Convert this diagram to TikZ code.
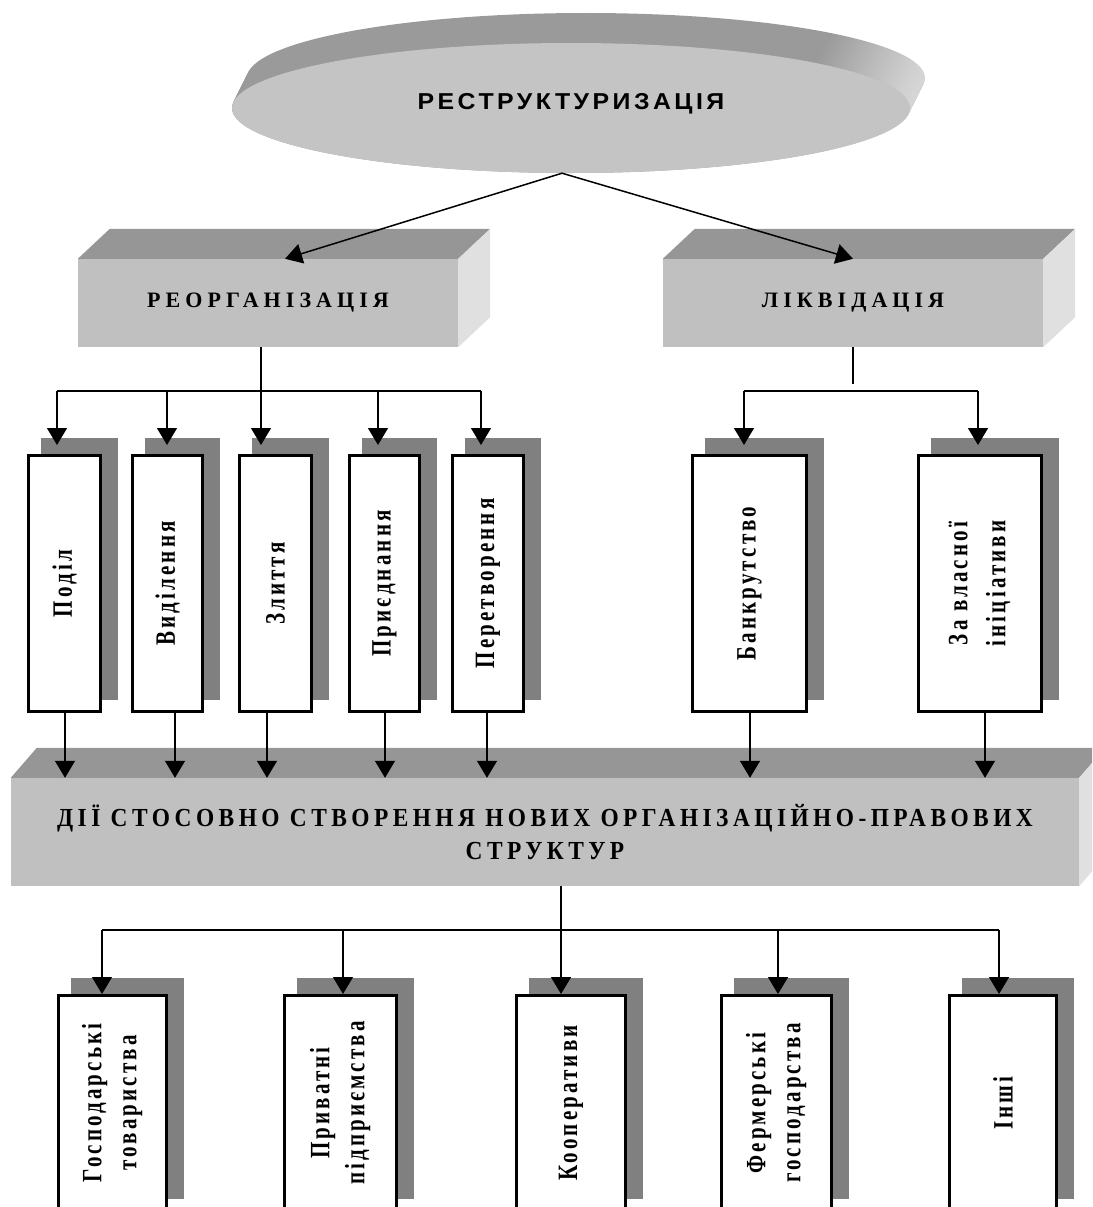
\documentclass[tikz,border=0pt]{standalone}
\usepackage{fontspec}
\setmainfont{Liberation Serif}
\newfontfamily\titlefont[LetterSpace=14]{Liberation Sans}
\newfontfamily\lblfont[LetterSpace=15]{Liberation Serif}
\newfontfamily\hdfont[LetterSpace=23]{Liberation Serif}
\newfontfamily\bigfont[LetterSpace=19]{Liberation Serif}
\usetikzlibrary{arrows.meta,shapes.geometric,backgrounds}
\definecolor{facec}{RGB}{192,192,192}
\definecolor{topc}{RGB}{150,150,150}
\definecolor{sidec}{RGB}{224,224,224}
\definecolor{shadc}{RGB}{128,128,128}
\definecolor{ellc}{RGB}{196,196,196}
\definecolor{rimc}{RGB}{154,154,154}
\definecolor{riml}{RGB}{214,214,214}
\pgfdeclarehorizontalshading{rimshade}{100bp}{color(0bp)=(rimc); color(68bp)=(rimc); color(75bp)=(riml); color(100bp)=(riml)}
\newcommand{\vlab}[1]{\rotatebox{90}{\scalebox{0.75}[1]{#1}}}
\newcommand{\vlabb}[3]{\rotatebox{90}{\scalebox{0.75}[1]{\begin{tabular}{@{}c@{}}#1\\[#3]#2\end{tabular}}}}
\newcommand{\cond}[1]{\scalebox{0.9}[1]{#1}}
\begin{document}
\begin{tikzpicture}[x=1pt,y=-1pt,
  conn/.style={line width=1.5pt},
  arr/.style={conn,-{Triangle[length=17pt,width=20pt]}},
  vbox/.style={draw, line width=3pt, fill=white, inner sep=0pt, font=\lblfont\bfseries\fontsize{28}{32}\selectfont},
  box3d/.style={fill=facec, inner sep=0pt, font=\hdfont\bfseries\fontsize{22}{26}\selectfont}
]
\useasboundingbox (0,0) rectangle (1092,1207);
\clip (0,0) rectangle (1092,1207);

% ---- top ellipse with rim
\foreach \i in {0,...,30}{\shade[shading=rimshade] ({586-0.5*\i},{78+\i}) ellipse [x radius=339pt, y radius=65pt];}
\node[ellipse, fill=ellc, minimum width=678pt, minimum height=130pt, inner sep=0pt] (restr) at (571,108) {};
\node[font=\titlefont\bfseries\fontsize{23}{28}\selectfont] (restrt) at (571,104) {\scalebox{1.08}[1]{РЕСТРУКТУРИЗАЦІЯ}};

% ---- 3D boxes
\node[box3d, minimum width=380pt, minimum height=88pt] (reorg) at (268,303) {РЕОРГАНІЗАЦІЯ};
\fill[topc] (reorg.north west) -- ([shift={(32,-30)}]reorg.north west) -- ([shift={(32,-30)}]reorg.north east) -- (reorg.north east) -- cycle;
\fill[sidec] (reorg.north east) -- ([shift={(32,-30)}]reorg.north east) -- ([shift={(32,-30)}]reorg.south east) -- (reorg.south east) -- cycle;

\node[box3d, minimum width=380pt, minimum height=88pt] (liq) at (853,303) {ЛІКВІДАЦІЯ};
\fill[topc] (liq.north west) -- ([shift={(32,-30)}]liq.north west) -- ([shift={(32,-30)}]liq.north east) -- (liq.north east) -- cycle;
\fill[sidec] (liq.north east) -- ([shift={(32,-30)}]liq.north east) -- ([shift={(32,-30)}]liq.south east) -- (liq.south east) -- cycle;

\node[box3d, font=\bigfont\bfseries\fontsize{26}{33}\selectfont, align=center, minimum width=1068pt, minimum height=108pt] (big) at (545,832) {\cond{ДІЇ СТОСОВНО СТВОРЕННЯ НОВИХ ОРГАНІЗАЦІЙНО-ПРАВОВИХ}\\\cond{СТРУКТУР}};
\fill[topc] (big.north west) -- ([shift={(26,-30)}]big.north west) -- ([shift={(26,-30)}]big.north east) -- (big.north east) -- cycle;
\fill[sidec] (big.north east) -- ([shift={(26,-30)}]big.north east) -- ([shift={(26,-30)}]big.south east) -- (big.south east) -- cycle;

% ---- middle vertical boxes
\node[vbox, minimum width=72pt, minimum height=256pt] (m1) at (64.5,583.5) {\vlab{Поділ}};
\node[vbox, minimum width=70pt, minimum height=256pt] (m2) at (167.5,583.5) {\vlab{Виділення}};
\node[vbox, minimum width=72pt, minimum height=256pt] (m3) at (275.5,583.5) {\vlab{Злиття}};
\node[vbox, minimum width=70pt, minimum height=256pt] (m4) at (384.5,583.5) {\vlab{Приєднання}};
\node[vbox, minimum width=71pt, minimum height=256pt] (m5) at (488,583.5) {\vlab{Перетворення}};
\node[vbox, minimum width=114pt, minimum height=256pt] (m6) at (749.5,583.5) {\vlab{Банкрутство}};
\node[vbox, minimum width=123pt, minimum height=256pt] (m7) at (980,583.5) {\vlabb{За власної}{ініціативи}{6pt}};

% ---- bottom vertical boxes
\node[vbox, minimum width=108pt, minimum height=215pt] (b1) at (112.5,1103) {\vlabb{Господарські}{товариства}{3pt}};
\node[vbox, minimum width=112pt, minimum height=215pt] (b2) at (340.5,1103) {\vlabb{Приватні}{підприємства}{3pt}};
\node[vbox, minimum width=109pt, minimum height=215pt] (b3) at (571,1103) {\vlab{Кооперативи}};
\node[vbox, minimum width=110pt, minimum height=215pt] (b4) at (776.5,1103) {\vlabb{Фермерські}{господарства}{3pt}};
\node[vbox, minimum width=107pt, minimum height=215pt] (b5) at (1003,1103) {\vlab{Інші}};

\begin{scope}[on background layer]
\foreach \b in {m1,m2,m3,m4,m5,m6,m7,b1,b2,b3,b4,b5}
  \fill[shadc] ([shift={(14,-16)}]\b.north west) rectangle ([shift={(16,-13)}]\b.south east);
\end{scope}

% ---- connectors from ellipse
\coordinate (es) at ([xshift=-9pt]restr.south);
\draw[arr] (es) -- ([xshift=17pt]reorg.north);
\draw[arr] (es) -- (liq.north);

% ---- reorganisation bus
\coordinate (rs) at ([xshift=-7pt]reorg.south);
\draw[arr, shorten >=9pt] (rs) -- (rs |- m3.north);
\coordinate (u1) at (57,391);
\coordinate (u2) at (167,391);
\coordinate (u4) at (378,391);
\coordinate (u5) at (481,391);
\draw[conn] (u1) -- (u5);
\foreach \c/\b in {u1/m1,u2/m2,u4/m4,u5/m5}
  \draw[arr, shorten >=9pt] (\c) -- (\c |- \b.north);

% ---- liquidation bus
\draw[conn] (liq.south) -- ++(0,37);
\coordinate (v1) at (744,391);
\coordinate (v2) at (978,391);
\draw[conn] (v1) -- (v2);
\foreach \c/\b in {v1/m6,v2/m7}
  \draw[arr, shorten >=9pt] (\c) -- (\c |- \b.north);

% ---- into the big box
\coordinate (o1) at ([xshift=0.5pt]m1.south);
\coordinate (o2) at ([xshift=7.5pt]m2.south);
\coordinate (o3) at ([xshift=-8.5pt]m3.south);
\coordinate (o4) at ([xshift=0.5pt]m4.south);
\coordinate (o5) at ([xshift=-1pt]m5.south);
\coordinate (o6) at ([xshift=0.5pt]m6.south);
\coordinate (o7) at ([xshift=5pt]m7.south);
\foreach \o in {o1,o2,o3,o4,o5,o6,o7}
  \draw[arr] (\o) -- (\o |- big.north);

% ---- lower bus
\coordinate (bs) at ([xshift=16pt]big.south);
\coordinate (w1) at (102,930);
\coordinate (w2) at (343,930);
\coordinate (w3) at (561,930);
\coordinate (w4) at (778,930);
\coordinate (w5) at (999,930);
\draw[conn] (bs) -- (bs |- w1);
\draw[conn] (w1) -- (w5);
\foreach \c/\b in {w1/b1,w2/b2,w3/b3,w4/b4,w5/b5}
  \draw[arr] (\c) -- (\c |- \b.north);
\end{tikzpicture}
\end{document}
